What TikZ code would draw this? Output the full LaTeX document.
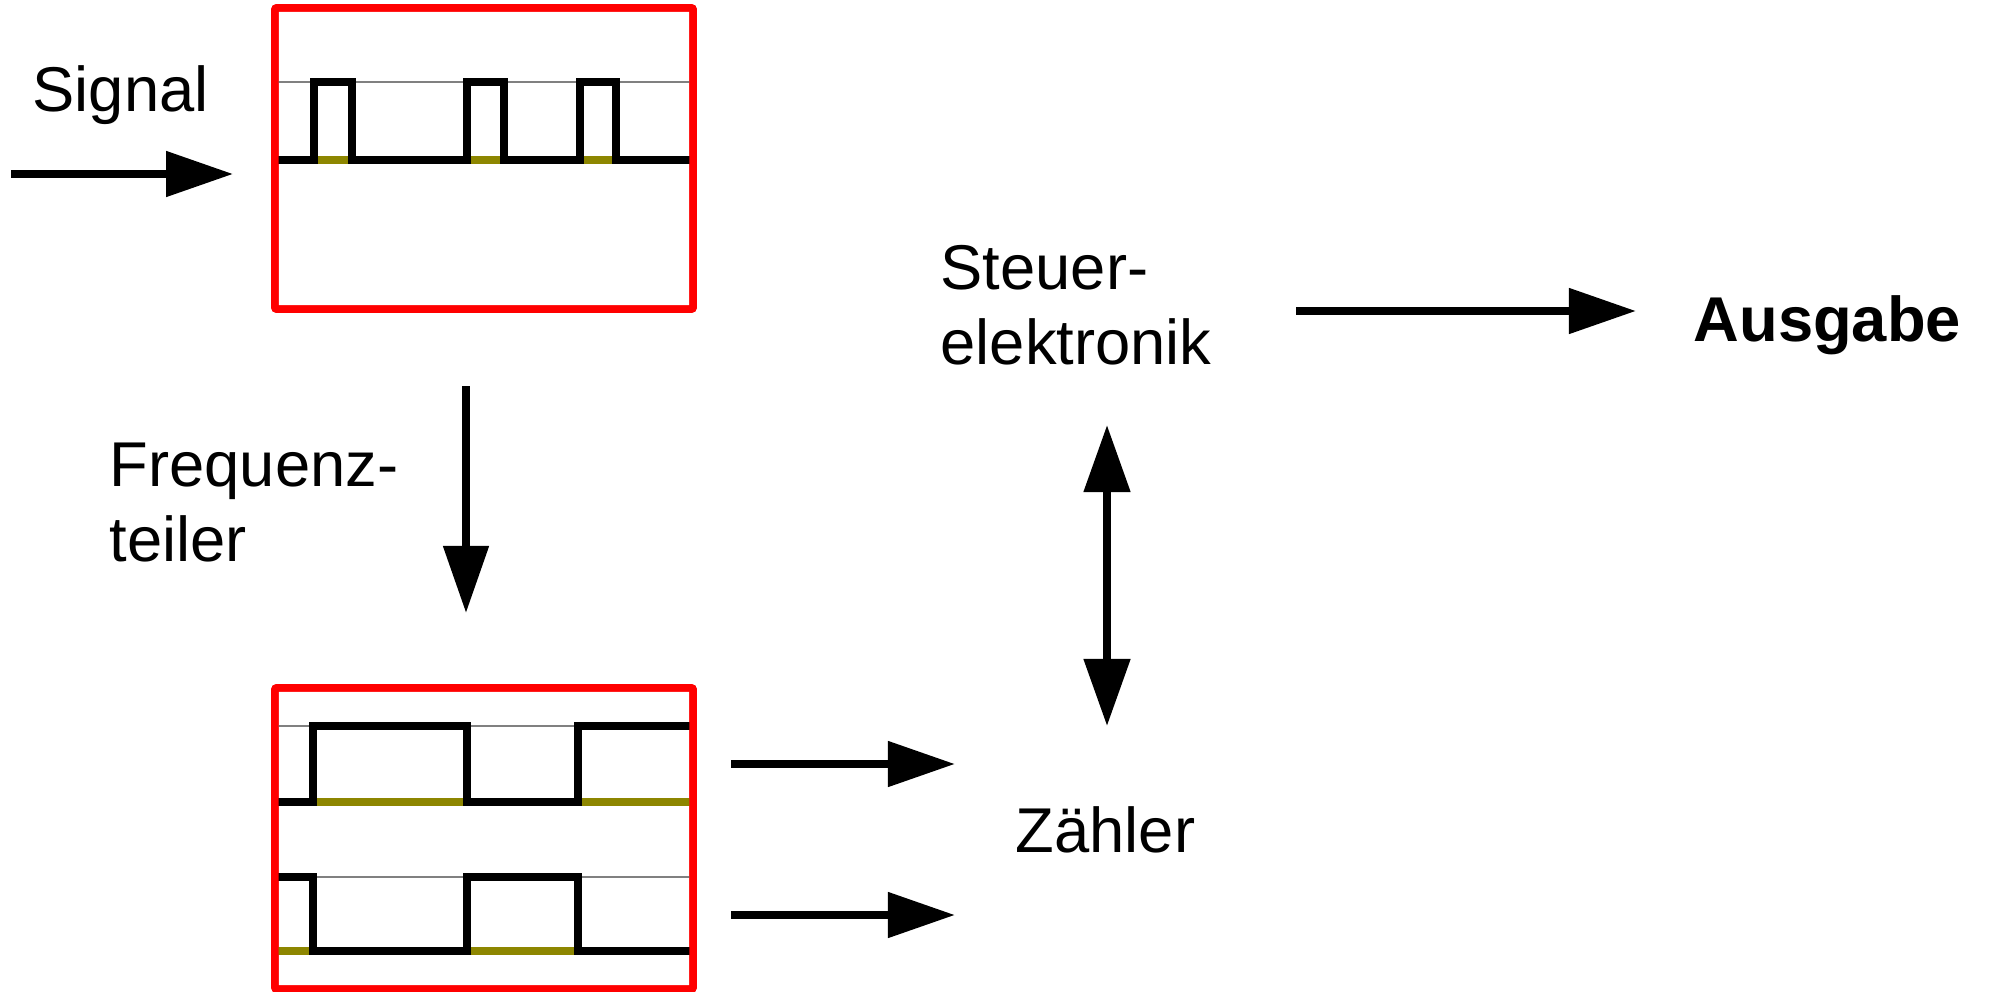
\documentclass[tikz,border=0pt]{standalone}
\usepackage{fontspec}
\setmainfont{Liberation Sans}
\usetikzlibrary{arrows.meta}
\begin{document}
\begin{tikzpicture}[x=0.01cm, y=-0.01cm,
    labelStyle/.style={anchor=base west, inner sep=0pt, align=left, font=\fontsize{18}{21.2}\selectfont},
    boxStyle/.style={rectangle, draw=red, line width=0.075cm, rounded corners=0.02cm, minimum width=4.18cm, minimum height=3.01cm},
    arrowStyle/.style={line width=0.08cm, -{Triangle[length=0.67cm, width=0.44cm]}},
    dblArrowStyle/.style={line width=0.08cm, {Triangle[length=0.67cm, width=0.45cm]}-{Triangle[length=0.67cm, width=0.45cm]}},
    waveStyle/.style={line width=0.08cm},
    highStyle/.style={draw=gray, line width=0.02cm},
    lowStyle/.style={draw=olive, line width=0.08cm}]
    \useasboundingbox (0,0) rectangle (1989,991);

    \node[labelStyle] (signal) at (32,112) {Signal};
    \node[labelStyle] (teiler) at (109,561) {Frequenz-\\teiler};
    \node[labelStyle] (steuer) at (940,364) {Steuer-\\elektronik};
    \node[labelStyle] (zaehler) at (1015,852) {Zähler};
    \node[labelStyle, font=\fontsize{18}{21.2}\selectfont\bfseries] (ausgabe) at (1693,341) {Ausgabe};

    \node[boxStyle] (topBox) at (484,158.5) {};
    \node[boxStyle] (bottomBox) at (484,838.5) {};

    \coordinate (sigIn) at (11,174);
    \coordinate (divIn) at (466,386);
    \coordinate (divOut) at (466,613);
    \coordinate (cntA) at (731,764);
    \coordinate (cntB) at (731,915);
    \coordinate (busTop) at (1107,425);
    \coordinate (busBottom) at (1107,726);
    \coordinate (outIn) at (1296,311);

    % Eingangssignal
    \draw[highStyle] (topBox.west |- 0,82) -- (topBox.east |- 0,82);
    \draw[lowStyle] (314,160) -- (352,160) (467,160) -- (504,160) (580,160) -- (616,160);
    \draw[waveStyle] (275,160) -- (314,160) -- (314,82) -- (352,82) -- (352,160) -- (467,160) -- (467,82) -- (504,82) -- (504,160) -- (580,160) -- (580,82) -- (616,82) -- (616,160) -- (693,160);

    % geteilte Signale
    \draw[highStyle] (275,726) -- (313,726) (467,726) -- (578,726);
    \draw[lowStyle] (313,802) -- (467,802) (578,802) -- (693,802);
    \draw[waveStyle] (275,802) -- (313,802) -- (313,726) -- (467,726) -- (467,802) -- (578,802) -- (578,726) -- (693,726);

    \draw[highStyle] (313,877) -- (467,877) (578,877) -- (693,877);
    \draw[lowStyle] (275,951) -- (313,951) (467,951) -- (578,951);
    \draw[waveStyle] (275,877) -- (313,877) -- (313,951) -- (467,951) -- (467,877) -- (578,877) -- (578,951) -- (693,951);

    \node[boxStyle] at (topBox) {};
    \node[boxStyle] at (bottomBox) {};

    \draw[arrowStyle, shorten >=0.38cm] (sigIn) -- (sigIn -| topBox.west);
    \draw[arrowStyle] (divIn) -- (divOut);
    \draw[arrowStyle, shorten >=0.6cm] (cntA) -- (cntA -| zaehler.west);
    \draw[arrowStyle, shorten >=0.6cm] (cntB) -- (cntB -| zaehler.west);
    \draw[dblArrowStyle] (busTop) -- (busBottom);
    \draw[arrowStyle, shorten >=0.57cm] (outIn) -- (outIn -| ausgabe.west);
\end{tikzpicture}
\end{document}
